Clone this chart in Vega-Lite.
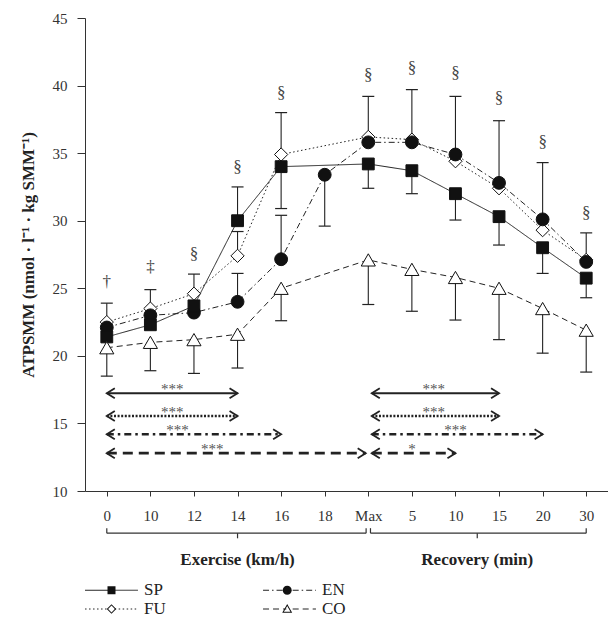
{
  "$schema": "https://vega.github.io/schema/vega-lite/v6.json",
  "width": 523,
  "height": 473,
  "autosize": {"type": "none"},
  "padding": {"left": 85, "top": 18, "right": 0, "bottom": 138},
  "background": "white",
  "config": {"view": {"stroke": null}, "font": "Liberation Serif"},
  "datasets": {
    "d": [
      {"i": 0, "g": "FU", "m": 22.5}, {"i": 1, "g": "FU", "m": 23.5}, {"i": 2, "g": "FU", "m": 24.6}, {"i": 3, "g": "FU", "m": 27.4}, {"i": 4, "g": "FU", "m": 34.9}, {"i": 6, "g": "FU", "m": 36.2}, {"i": 7, "g": "FU", "m": 36.0}, {"i": 8, "g": "FU", "m": 34.4}, {"i": 9, "g": "FU", "m": 32.4}, {"i": 10, "g": "FU", "m": 29.3}, {"i": 11, "g": "FU", "m": 27.1},
      {"i": 0, "g": "EN", "m": 22.1}, {"i": 1, "g": "EN", "m": 23.0}, {"i": 2, "g": "EN", "m": 23.2}, {"i": 3, "g": "EN", "m": 24.0}, {"i": 4, "g": "EN", "m": 27.15}, {"i": 5, "g": "EN", "m": 33.4}, {"i": 6, "g": "EN", "m": 35.8}, {"i": 7, "g": "EN", "m": 35.8}, {"i": 8, "g": "EN", "m": 34.9}, {"i": 9, "g": "EN", "m": 32.8}, {"i": 10, "g": "EN", "m": 30.1}, {"i": 11, "g": "EN", "m": 26.95},
      {"i": 0, "g": "SP", "m": 21.4}, {"i": 1, "g": "SP", "m": 22.3}, {"i": 2, "g": "SP", "m": 23.7}, {"i": 3, "g": "SP", "m": 30.0}, {"i": 4, "g": "SP", "m": 34.0}, {"i": 6, "g": "SP", "m": 34.2}, {"i": 7, "g": "SP", "m": 33.7}, {"i": 8, "g": "SP", "m": 32.0}, {"i": 9, "g": "SP", "m": 30.3}, {"i": 10, "g": "SP", "m": 28.0}, {"i": 11, "g": "SP", "m": 25.75},
      {"i": 0, "g": "CO", "m": 20.6}, {"i": 1, "g": "CO", "m": 21.0}, {"i": 2, "g": "CO", "m": 21.2}, {"i": 3, "g": "CO", "m": 21.6}, {"i": 4, "g": "CO", "m": 25.0}, {"i": 6, "g": "CO", "m": 27.1}, {"i": 7, "g": "CO", "m": 26.4}, {"i": 8, "g": "CO", "m": 25.8}, {"i": 9, "g": "CO", "m": 25.0}, {"i": 10, "g": "CO", "m": 23.5}, {"i": 11, "g": "CO", "m": 21.9}
    ],
    "eb": [
      {"i": 0, "g": "FU", "from": 22.5, "to": 23.9}, {"i": 0, "g": "CO", "from": 20.6, "to": 18.5},
      {"i": 1, "g": "FU", "from": 23.5, "to": 24.9}, {"i": 1, "g": "CO", "from": 21.0, "to": 18.9},
      {"i": 2, "g": "FU", "from": 24.6, "to": 26.05}, {"i": 2, "g": "CO", "from": 21.2, "to": 18.7},
      {"i": 3, "g": "SP", "from": 30.0, "to": 32.5}, {"i": 3, "g": "FU", "from": 27.4, "to": 29.2}, {"i": 3, "g": "EN", "from": 24.0, "to": 26.1}, {"i": 3, "g": "CO", "from": 21.6, "to": 19.1},
      {"i": 4, "g": "FU", "from": 34.9, "to": 38.0}, {"i": 4, "g": "SP", "from": 34.0, "to": 30.9}, {"i": 4, "g": "EN", "from": 27.15, "to": 30.4}, {"i": 4, "g": "CO", "from": 25.0, "to": 22.6},
      {"i": 5, "g": "EN", "from": 33.4, "to": 29.6},
      {"i": 6, "g": "FU", "from": 36.2, "to": 39.2}, {"i": 6, "g": "SP", "from": 34.2, "to": 32.4}, {"i": 6, "g": "CO", "from": 27.1, "to": 23.8},
      {"i": 7, "g": "FU", "from": 36.0, "to": 39.7}, {"i": 7, "g": "SP", "from": 33.7, "to": 32.0}, {"i": 7, "g": "CO", "from": 26.4, "to": 23.3},
      {"i": 8, "g": "EN", "from": 34.9, "to": 39.2}, {"i": 8, "g": "SP", "from": 32.0, "to": 30.05}, {"i": 8, "g": "CO", "from": 25.8, "to": 22.65},
      {"i": 9, "g": "EN", "from": 32.8, "to": 37.4}, {"i": 9, "g": "SP", "from": 30.3, "to": 28.2}, {"i": 9, "g": "CO", "from": 25.0, "to": 21.2},
      {"i": 10, "g": "EN", "from": 30.1, "to": 34.3}, {"i": 10, "g": "SP", "from": 28.0, "to": 26.1}, {"i": 10, "g": "CO", "from": 23.5, "to": 20.2},
      {"i": 11, "g": "EN", "from": 26.95, "to": 29.1}, {"i": 11, "g": "SP", "from": 25.75, "to": 24.3}, {"i": 11, "g": "CO", "from": 21.9, "to": 18.8}
    ],
    "ann": [
      {"i": 0, "y": 25.5, "t": "†"}, {"i": 1, "y": 26.6, "t": "‡"}, {"i": 2, "y": 27.55, "t": "§"}, {"i": 3, "y": 34.0, "t": "§"}, {"i": 4, "y": 39.45, "t": "§"},
      {"i": 6, "y": 40.8, "t": "§"}, {"i": 7, "y": 41.3, "t": "§"}, {"i": 8, "y": 40.9, "t": "§"}, {"i": 9, "y": 39.1, "t": "§"}, {"i": 10, "y": 35.8, "t": "§"}, {"i": 11, "y": 30.6, "t": "§"}
    ],
    "arr": [
      {"type": "solid", "x1": 0, "x2": 3, "y": 17.24, "t": "***", "lx": 1.5},
      {"type": "dotted", "x1": 0, "x2": 3, "y": 15.55, "t": "***", "lx": 1.5},
      {"type": "dashdot", "x1": 0, "x2": 4, "y": 14.2, "t": "***", "lx": 1.62},
      {"type": "longdash", "x1": 0, "x2": 5.94, "y": 12.8, "t": "***", "lx": 2.42},
      {"type": "solid", "x1": 6.08, "x2": 9, "y": 17.24, "t": "***", "lx": 7.5},
      {"type": "dotted", "x1": 6.08, "x2": 9, "y": 15.55, "t": "***", "lx": 7.5},
      {"type": "dashdot", "x1": 6.08, "x2": 10, "y": 14.2, "t": "***", "lx": 8},
      {"type": "longdash", "x1": 6.08, "x2": 8, "y": 12.8, "t": "*", "lx": 7}
    ],
    "brace": [
      {"a": 0, "b": 5.95, "c": 3, "y": 6.88, "yu": 7.25, "yd": 6.5},
      {"a": 6.05, "b": 11, "c": 8.5, "y": 6.88, "yu": 7.25, "yd": 6.5}
    ],
    "sec": [
      {"i": 3, "y": 4.9, "t": "Exercise (km/h)"},
      {"i": 8.5, "y": 4.9, "t": "Recovery (min)"}
    ]
  },
  "layer": [
    {
      "data": {"name": "d"},
      "mark": {"type": "line", "color": "#222", "strokeWidth": 1},
      "encoding": {
        "x": {"field": "i", "type": "quantitative", "scale": {"domain": [-0.5, 11.5], "nice": false, "zero": false},
          "axis": {"values": [0,1,2,3,4,5,6,7,8,9,10,11], "labelExpr": "['0','10','12','14','16','18','Max','5','10','15','20','30'][datum.value]", "title": null, "grid": false, "tickSize": 5, "labelPadding": 12, "labelFont": "Liberation Serif", "labelFontSize": 15, "labelColor": "#333", "domainColor": "#333", "tickColor": "#333", "labelFlush": false, "labelOverlap": false}},
        "y": {"field": "m", "type": "quantitative", "scale": {"domain": [10, 45], "nice": false, "zero": false},
          "axis": {"values": [10,15,20,25,30,35,40,45], "title": "ATPSMM (nmol · l⁻¹ · kg SMM⁻¹)", "grid": false, "tickSize": 8, "labelPadding": 10, "labelFont": "Liberation Serif", "labelFontSize": 15, "labelColor": "#333", "domainColor": "#333", "tickColor": "#333", "titleFont": "Liberation Serif", "titleFontSize": 17, "titleFontWeight": "bold", "titleColor": "#222", "titlePadding": 15}},
        "strokeDash": {"field": "g", "type": "nominal",
          "scale": {"range": [[6,4],[6,3,1.5,3],[1.5,2.5],[1,0]]},
          "legend": {"values": ["SP","EN","FU","CO"], "orient": "none", "direction": "horizontal", "legendX": 0, "legendY": 563.5, "columns": 2, "columnPadding": 95, "rowPadding": 1, "padding": 0, "title": null,
            "symbolType": "M-5,0H-0.6M0.6,0H5", "symbolSize": 112, "symbolOffset": 18, "labelOffset": 24, "symbolStrokeColor": "#222", "symbolStrokeWidth": 1, "symbolFillColor": "transparent",
            "labelFont": "Liberation Serif", "labelFontSize": 17, "labelColor": "#222"}}
      }
    },
    {
      "data": {"name": "eb"},
      "mark": {"type": "rule", "color": "#222", "strokeWidth": 1.1},
      "encoding": {
        "x": {"field": "i", "type": "quantitative"},
        "y": {"field": "from", "type": "quantitative"},
        "y2": {"field": "to"}
      }
    },
    {
      "data": {"name": "eb"},
      "mark": {"type": "point", "shape": "M-1,0L1,0", "size": 144, "filled": false, "stroke": "#222", "strokeWidth": 1.2, "opacity": 1},
      "encoding": {
        "x": {"field": "i", "type": "quantitative"},
        "y": {"field": "to", "type": "quantitative"}
      }
    },
    {
      "data": {"name": "d"},
      "transform": [{"filter": "datum.g === 'FU'"}],
      "mark": {"type": "point", "shape": "diamond", "filled": true, "fill": "#ffffff", "stroke": "#111", "strokeWidth": 1, "size": 175, "opacity": 1},
      "encoding": {"x": {"field": "i", "type": "quantitative"}, "y": {"field": "m", "type": "quantitative"}}
    },
    {
      "data": {"name": "d"},
      "transform": [{"filter": "datum.g === 'EN'"}],
      "mark": {"type": "point", "shape": "circle", "filled": true, "fill": "#111", "stroke": "#111", "strokeWidth": 1, "size": 165, "opacity": 1},
      "encoding": {"x": {"field": "i", "type": "quantitative"}, "y": {"field": "m", "type": "quantitative"}}
    },
    {
      "data": {"name": "d"},
      "transform": [{"filter": "datum.g === 'SP'"}],
      "mark": {"type": "point", "shape": "square", "filled": true, "fill": "#111", "stroke": "#111", "strokeWidth": 1, "size": 140, "opacity": 1},
      "encoding": {"x": {"field": "i", "type": "quantitative"}, "y": {"field": "m", "type": "quantitative"}}
    },
    {
      "data": {"name": "d"},
      "transform": [{"filter": "datum.g === 'CO'"}],
      "mark": {"type": "point", "shape": "triangle-up", "filled": true, "fill": "#ffffff", "stroke": "#111", "strokeWidth": 1, "size": 200, "opacity": 1},
      "encoding": {"x": {"field": "i", "type": "quantitative"}, "y": {"field": "m", "type": "quantitative"}}
    },
    {
      "data": {"name": "d"},
      "transform": [{"filter": "false"}],
      "mark": {"type": "point", "filled": true, "fill": "#111", "strokeWidth": 0},
      "encoding": {
        "x": {"field": "i", "type": "quantitative"},
        "y": {"field": "m", "type": "quantitative"},
        "shape": {"field": "g", "type": "nominal",
          "scale": {"domain": ["SP","EN","FU","CO"], "range": [
            "M-0.8,-0.8H0.8V0.8H-0.8Z",
            "M0.9,0A0.9,0.9,0,1,1,-0.9,0A0.9,0.9,0,1,1,0.9,0Z",
            "M0,-0.95L0.95,0L0,0.95L-0.95,0ZM0,-0.68L-0.68,0L0,0.68L0.68,0Z",
            "M0,-1L1,0.75L-1,0.75ZM0,-0.6L-0.657,0.55L0.657,0.55Z"]},
          "legend": {"orient": "none", "direction": "horizontal", "legendX": 0, "legendY": 563.5, "columns": 2, "columnPadding": 116.7, "rowPadding": 1, "padding": 0, "title": null,
            "symbolSize": 100, "symbolOffset": 18, "labelOffset": 24, "symbolFillColor": "#111", "symbolStrokeWidth": 0, "symbolOpacity": 1,
            "labelFont": "Liberation Serif", "labelFontSize": 17, "labelExpr": "''"}}
      }
    },
    {
      "data": {"name": "ann"},
      "mark": {"type": "text", "font": "Liberation Serif", "fontSize": 17, "color": "#444", "baseline": "middle", "align": "center"},
      "encoding": {
        "x": {"field": "i", "type": "quantitative"},
        "y": {"field": "y", "type": "quantitative"},
        "text": {"field": "t"}
      }
    },
    {
      "data": {"name": "arr"},
      "transform": [{"filter": "datum.type === 'solid'"}],
      "mark": {"type": "rule", "color": "#222", "strokeWidth": 2},
      "encoding": {"x": {"field": "x1", "type": "quantitative"}, "x2": {"field": "x2"}, "y": {"field": "y", "type": "quantitative"}}
    },
    {
      "data": {"name": "arr"},
      "transform": [{"filter": "datum.type === 'dotted'"}],
      "mark": {"type": "rule", "color": "#222", "strokeWidth": 2.6, "strokeDash": [2, 1.6]},
      "encoding": {"x": {"field": "x1", "type": "quantitative"}, "x2": {"field": "x2"}, "y": {"field": "y", "type": "quantitative"}}
    },
    {
      "data": {"name": "arr"},
      "transform": [{"filter": "datum.type === 'dashdot'"}],
      "mark": {"type": "rule", "color": "#222", "strokeWidth": 2.6, "strokeDash": [7, 4, 2.5, 4]},
      "encoding": {"x": {"field": "x1", "type": "quantitative"}, "x2": {"field": "x2"}, "y": {"field": "y", "type": "quantitative"}}
    },
    {
      "data": {"name": "arr"},
      "transform": [{"filter": "datum.type === 'longdash'"}],
      "mark": {"type": "rule", "color": "#222", "strokeWidth": 2.6, "strokeDash": [10, 6]},
      "encoding": {"x": {"field": "x1", "type": "quantitative"}, "x2": {"field": "x2"}, "y": {"field": "y", "type": "quantitative"}}
    },
    {
      "data": {"name": "arr"},
      "mark": {"type": "point", "shape": "M1.6,-1L0,0L1.6,1", "size": 100, "filled": false, "stroke": "#222", "strokeWidth": 1.8, "opacity": 1},
      "encoding": {"x": {"field": "x1", "type": "quantitative"}, "y": {"field": "y", "type": "quantitative"}}
    },
    {
      "data": {"name": "arr"},
      "mark": {"type": "point", "shape": "M-1.6,-1L0,0L-1.6,1", "size": 100, "filled": false, "stroke": "#222", "strokeWidth": 1.8, "opacity": 1},
      "encoding": {"x": {"field": "x2", "type": "quantitative"}, "y": {"field": "y", "type": "quantitative"}}
    },
    {
      "data": {"name": "arr"},
      "mark": {"type": "text", "font": "Liberation Serif", "fontSize": 15, "color": "#555", "baseline": "alphabetic", "align": "center", "dy": 1},
      "encoding": {"x": {"field": "lx", "type": "quantitative"}, "y": {"field": "y", "type": "quantitative"}, "text": {"field": "t"}}
    },
    {
      "data": {"name": "brace"},
      "mark": {"type": "rule", "color": "#333", "strokeWidth": 1.2},
      "encoding": {"x": {"field": "a", "type": "quantitative"}, "x2": {"field": "b"}, "y": {"field": "y", "type": "quantitative"}}
    },
    {
      "data": {"name": "brace"},
      "mark": {"type": "rule", "color": "#333", "strokeWidth": 1.2},
      "encoding": {"x": {"field": "a", "type": "quantitative"}, "y": {"field": "y", "type": "quantitative"}, "y2": {"field": "yu"}}
    },
    {
      "data": {"name": "brace"},
      "mark": {"type": "rule", "color": "#333", "strokeWidth": 1.2},
      "encoding": {"x": {"field": "b", "type": "quantitative"}, "y": {"field": "y", "type": "quantitative"}, "y2": {"field": "yu"}}
    },
    {
      "data": {"name": "brace"},
      "mark": {"type": "rule", "color": "#333", "strokeWidth": 1.2},
      "encoding": {"x": {"field": "c", "type": "quantitative"}, "y": {"field": "y", "type": "quantitative"}, "y2": {"field": "yd"}}
    },
    {
      "data": {"name": "sec"},
      "mark": {"type": "text", "font": "Liberation Serif", "fontSize": 17, "fontWeight": "bold", "color": "#222", "baseline": "middle", "align": "center"},
      "encoding": {"x": {"field": "i", "type": "quantitative"}, "y": {"field": "y", "type": "quantitative"}, "text": {"field": "t"}}
    }
  ]
}
